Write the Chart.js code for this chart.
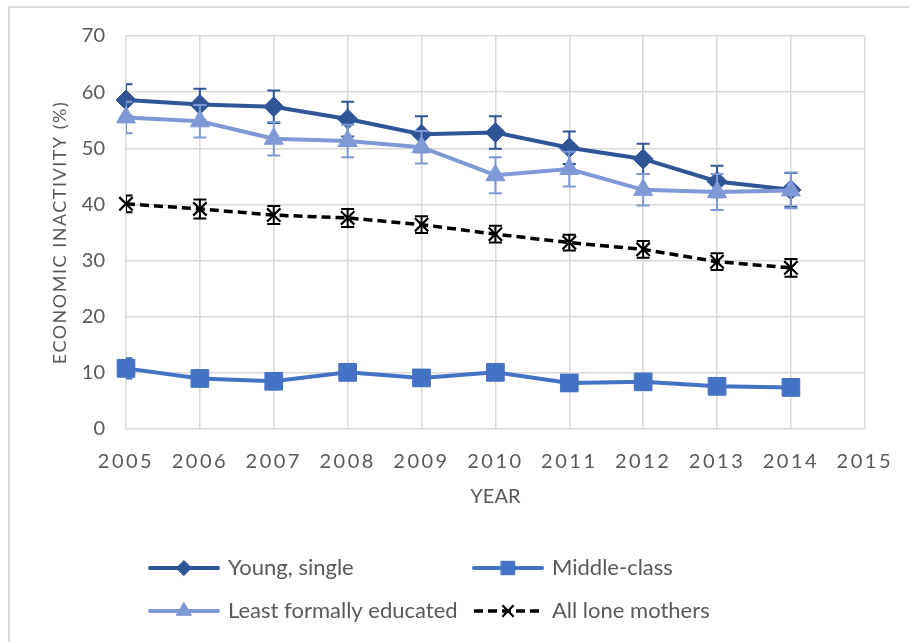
<!DOCTYPE html>
<html><head><meta charset="utf-8">
<script src="https://cdn.jsdelivr.net/npm/chart.js@4.4.1/dist/chart.umd.min.js"></script>
<style>
html,body{margin:0;padding:0;background:#fff;}
#wrap{position:relative;width:909px;height:642px;overflow:hidden;background:#fff;}
#frame{position:absolute;left:8px;top:6px;width:1000px;height:1000px;border:2px solid #d9d9d9;box-sizing:border-box;}
canvas{position:absolute;left:0;top:0;}
</style></head><body>
<div id="wrap"><div id="frame"></div><canvas id="c" width="909" height="642"></canvas></div>
<script>
// ---- data ----
const years = [2005, 2006, 2007, 2008, 2009, 2010, 2011, 2012, 2013, 2014];
const seriesNames = ['Young, single', 'Middle-class', 'Least formally educated', 'All lone mothers'];
const youngSingle = [58.6, 57.8, 57.4, 55.2, 52.5, 52.8, 50.1, 48.1, 44.1, 42.6];
const youngSingleErr = [2.8, 2.8, 2.9, 3.1, 3.2, 2.9, 2.9, 2.7, 2.8, 3.0];
const middleClass = [10.8, 9.0, 8.5, 10.1, 9.1, 10.1, 8.2, 8.4, 7.6, 7.4];
const middleClassErr = [1.8, 1.4, 1.4, 1.4, 1.4, 1.4, 1.4, 1.4, 1.4, 1.4];
const leastEducated = [55.5, 54.8, 51.7, 51.3, 50.2, 45.2, 46.3, 42.6, 42.2, 42.5];
const leastEducatedErr = [2.8, 2.9, 3.0, 2.9, 2.9, 3.2, 3.1, 2.8, 3.2, 3.2];
const allLoneMothers = [40.1, 39.2, 38.1, 37.6, 36.4, 34.7, 33.2, 32.0, 29.8, 28.7];
const allLoneMothersErr = [1.5, 1.7, 1.6, 1.6, 1.5, 1.5, 1.4, 1.5, 1.5, 1.6];
const xTicksMin = 2005, xTicksMax = 2015;
const yTicksMin = 0, yTicksMax = 70, yStep = 10;

// ---- styles ----
const FONT = 'Lato, "Open Sans", sans-serif';
const TXT = '#595959';
const GRID = '#d9d9d9';
const C_DARK = '#2F5597', C_MID = '#4472C4', C_LIGHT = '#7F98D6', C_BLACK = '#000000';

const pts = vals => years.map((yr, i) => ({x: yr, y: vals[i]}));

const errorBars = {
  id: 'errorBars',
  beforeDatasetDraw(chart, args) {
    const ds = chart.data.datasets[args.index];
    if (!ds.errors) return;
    const {ctx, chartArea: a} = chart;
    const ys = chart.scales.y;
    ctx.save();
    ctx.beginPath();
    ctx.rect(a.left, a.top, a.right - a.left, a.bottom - a.top);
    ctx.clip();
    ctx.strokeStyle = ds.borderColor;
    ctx.lineWidth = 2;
    ctx.setLineDash([]);
    args.meta.data.forEach((el, i) => {
      const v = ds.data[i].y, e = ds.errors[i];
      const t = ys.getPixelForValue(v + e), b = ys.getPixelForValue(v - e);
      ctx.beginPath();
      ctx.moveTo(el.x, t); ctx.lineTo(el.x, b);
      ctx.moveTo(el.x - 6.5, t); ctx.lineTo(el.x + 6.5, t);
      ctx.moveTo(el.x - 6.5, b); ctx.lineTo(el.x + 6.5, b);
      ctx.stroke();
    });
    ctx.restore();
  }
};

const spacing = {
  id: 'spacing',
  beforeDraw(chart) {
    const sx = chart.scales.x, sy = chart.scales.y;
    if (!sx._lsPatched) {
      const o = sx.drawLabels;
      sx.drawLabels = function (ca) { const c = this.ctx; c.save(); c.letterSpacing = '2.5px'; o.call(this, ca); c.restore(); };
      sx._lsPatched = true;
    }
    if (!sy._lsPatched) {
      const o = sy.drawTitle;
      sy.drawTitle = function (ca) { const c = this.ctx; c.save(); c.letterSpacing = '1.5px'; o.call(this, ca); c.restore(); };
      sy._lsPatched = true;
    }
  }
};

const legendPos = [{x: 150, y: 568}, {x: 474, y: 568}, {x: 150, y: 611}, {x: 474, y: 611}];
const customLegend = {
  id: 'customLegend',
  afterDraw(chart) {
    const ctx = chart.ctx;
    chart.data.datasets.forEach((ds, i) => {
      const p = legendPos[i];
      ctx.save();
      ctx.strokeStyle = ds.borderColor;
      ctx.lineWidth = ds.borderWidth;
      ctx.setLineDash(ds.borderDash || []);
      ctx.lineCap = ds.borderDash ? 'butt' : 'round';
      ctx.beginPath();
      ctx.moveTo(p.x, p.y); ctx.lineTo(p.x + 68, p.y);
      ctx.stroke();
      ctx.setLineDash([]);
      ctx.fillStyle = ds.pointBackgroundColor;
      ctx.strokeStyle = ds.pointBorderColor;
      ctx.lineWidth = ds.pointBorderWidth;
      Chart.helpers.drawPoint(ctx, {pointStyle: ds.pointStyle, rotation: 0, radius: ds.legendRadius, borderWidth: ds.pointBorderWidth}, p.x + 34, p.y);
      ctx.fillStyle = TXT;
      ctx.font = '22px ' + FONT;
      ctx.textBaseline = 'middle';
      ctx.textAlign = 'left';
      ctx.fillText(ds.label, p.x + 78, p.y);
      ctx.restore();
    });
  }
};

new Chart(document.getElementById('c'), {
  type: 'line',
  data: {
    datasets: [
      {label: seriesNames[0], data: pts(youngSingle), errors: youngSingleErr, borderColor: C_DARK, backgroundColor: C_DARK,
       borderWidth: 4, pointStyle: 'rectRot', pointRadius: 10, pointBackgroundColor: C_DARK, pointBorderColor: C_DARK,
       pointBorderWidth: 1, order: 4, clip: 20, legendRadius: 7.5},
      {label: seriesNames[1], data: pts(middleClass), errors: middleClassErr, borderColor: C_MID, backgroundColor: C_MID,
       borderWidth: 4, pointStyle: 'rect', pointRadius: 12.5, pointBackgroundColor: C_MID, pointBorderColor: C_MID,
       pointBorderWidth: 1, order: 3, clip: 20, legendRadius: 9.5},
      {label: seriesNames[2], data: pts(leastEducated), errors: leastEducatedErr, borderColor: C_LIGHT, backgroundColor: C_LIGHT,
       borderWidth: 4, pointStyle: 'triangle', pointRadius: 11, pointBackgroundColor: C_LIGHT, pointBorderColor: C_LIGHT,
       pointBorderWidth: 1, order: 2, clip: 20, legendRadius: 8.5},
      {label: seriesNames[3], data: pts(allLoneMothers), errors: allLoneMothersErr, borderColor: C_BLACK, backgroundColor: C_BLACK,
       borderWidth: 3.5, borderDash: [9, 5], pointStyle: 'crossRot', pointRadius: 9.5, pointBackgroundColor: C_BLACK, pointBorderColor: C_BLACK,
       pointBorderWidth: 2.2, order: 1, clip: 20, legendRadius: 8}
    ]
  },
  options: {
    responsive: false,
    animation: false,
    events: [],
    layout: {padding: {left: 10, top: 36, right: 41, bottom: 122}},
    elements: {line: {tension: 0}},
    plugins: {legend: {display: false}, tooltip: {enabled: false}, title: {display: false}},
    scales: {
      x: {
        type: 'linear', min: xTicksMin, max: xTicksMax,
        afterFit(s) { s.height = 91; },
        ticks: {stepSize: 1, callback: v => String(v), color: TXT, font: {size: 20, family: FONT}, padding: 21, maxRotation: 0, autoSkip: false},
        grid: {color: GRID, lineWidth: 1.5, drawTicks: false},
        border: {display: false},
        title: {display: true, text: 'YEAR', color: TXT, font: {size: 20, family: FONT, lineHeight: 1.2}, padding: {top: 0, bottom: 11}}
      },
      y: {
        min: yTicksMin, max: yTicksMax,
        afterFit(s) { s.width = 116; },
        ticks: {stepSize: yStep, color: TXT, font: {size: 20, family: FONT}, padding: 21},
        grid: {color: GRID, lineWidth: 1.5, drawTicks: false},
        border: {display: false},
        title: {display: true, text: 'ECONOMIC INACTIVITY (%)', color: TXT, font: {size: 18, family: FONT, lineHeight: 1.2}, padding: {top: 39, bottom: 0}}
      }
    }
  },
  plugins: [errorBars, spacing, customLegend]
});
</script>
</body></html>
